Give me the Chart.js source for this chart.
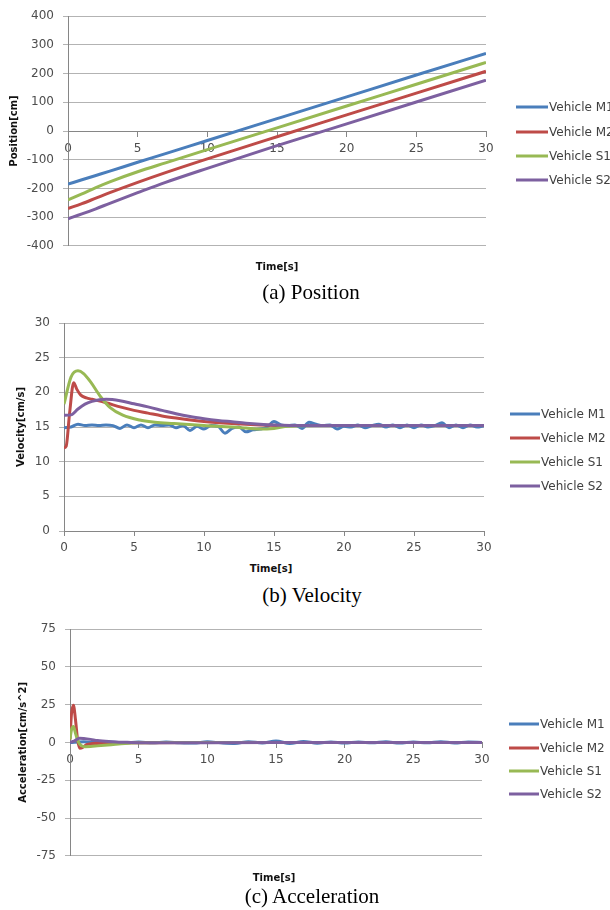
<!DOCTYPE html>
<html><head><meta charset="utf-8">
<script src="https://cdn.jsdelivr.net/npm/chart.js@4.4.1/dist/chart.umd.min.js"></script>
<style>
html,body{margin:0;padding:0;background:#fff;width:610px;height:910px;overflow:hidden;position:relative;}
canvas{position:absolute;left:0;}
.xt{position:absolute;white-space:nowrap;font:bold 10px "DejaVu Sans";color:#111;transform:translate(-50%,-50%);}
.cap{position:absolute;white-space:nowrap;font:21px "Liberation Serif";color:#000;transform:translate(-50%,-50%);}
.leg{position:absolute;white-space:nowrap;font:12px "DejaVu Sans";color:#404040;transform:translateY(-50%);}
.sw{position:absolute;height:3px;transform:translateY(-50%);}
</style></head>
<body>
<canvas id="c1" width="610" height="262" style="top:0px"></canvas>
<canvas id="c2" width="610" height="262" style="top:300px"></canvas>
<canvas id="c3" width="610" height="262" style="top:610px"></canvas>
<div class="xt" style="left:277px;top:266px">Time[s]</div>
<div class="cap" style="left:311px;top:292px">(a) Position</div>
<div class="xt" style="left:271px;top:568px">Time[s]</div>
<div class="cap" style="left:312px;top:595px">(b) Velocity</div>
<div class="xt" style="left:274px;top:877px">Time[s]</div>
<div class="cap" style="left:312px;top:896px">(c) Acceleration</div>
<script>
// ---- data ----
const seriesNames = ['Vehicle M1','Vehicle M2','Vehicle S1','Vehicle S2'];
const seriesColors = ['#4A7EBB','#BE4B48','#98B954','#7D60A0'];
const xTicks = [0,5,10,15,20,25,30];

// Position [cm]
const posTime = [0,1,2,3,5,7,10,15,20,25,30];
const posM1 = [-185,-170,-155,-140,-109,-79,-33,43,119,195,270];
const posM2 = [-270,-253,-234,-215,-179,-145,-97,-20,56,132,208];
const posS1 = [-240,-219,-197,-177,-142,-111,-65,11,87,163,239];
const posS2 = [-306,-289,-271,-252,-215,-179,-130,-51,25,101,177];

// Velocity [cm/s]
const velTimeM1 = [0,0.5,1,1.5,2,2.5,3,3.5,4,4.5,5,5.5,6,6.5,7,7.5,8,8.5,9,9.5,10,10.5,11,11.5,12,12.5,13,13.5,14,14.5,15,15.5,16,16.5,17,17.5,18,18.5,19,19.5,20,20.5,21,21.5,22,22.5,23,23.5,24,24.5,25,25.5,26,26.5,27,27.5,28,28.5,29,29.5,30];
const velM1 = [14.9,15.0,15.4,15.2,15.3,15.2,15.3,15.2,14.8,15.3,14.9,15.3,14.9,15.3,15.2,15.3,14.9,15.2,14.5,15.1,14.7,15.2,15.1,14.1,14.8,15.0,14.3,14.6,14.7,15.0,15.8,15.3,15.2,15.3,14.8,15.7,15.4,15.2,15.3,14.7,15.1,15.0,15.3,14.9,15.2,15.4,15.0,15.3,14.9,15.3,14.9,15.3,15.0,15.2,15.6,14.9,15.3,14.9,15.3,15.0,15.2];
const velTimeM2 = [0,0.15,0.4,0.69,0.9,1.2,1.6,2,3,4,5,6,7,8,10,12,14,16,20,25,30];
const velM2 = [12.0,12.2,17.0,21.4,20.5,19.6,19.2,19.0,18.5,17.9,17.4,17.0,16.6,16.3,15.8,15.5,15.3,15.2,15.2,15.2,15.2];
const velTimeS1 = [0,0.5,1.0,1.4,1.9,2.6,3.3,4.2,5.4,6.5,7.8,10,12,13,14,15,16,18,20,25,30];
const velS1 = [18.3,22.2,23.1,22.7,21.5,19.4,17.8,16.7,16.0,15.7,15.5,15.2,15.0,14.85,14.7,14.8,15.1,15.2,15.2,15.2,15.2];
const velTimeS2 = [0,0.5,1,1.5,2,3,4,5,6,7,8,9,10,11,12,13,14,15,17,20,25,30];
const velS2 = [16.7,16.75,17.6,18.3,18.7,19.0,18.8,18.35,17.9,17.4,16.9,16.5,16.2,15.95,15.75,15.55,15.4,15.3,15.2,15.2,15.2,15.2];

// Acceleration [cm/s^2]
const accTimeM1 = [0,1,2,3,4,5,6,7,8,9,10,11,12,13,14,15,16,17,18,19,20,21,22,23,24,25,26,27,28,29,30];
const accM1 = [0,0.4,-0.2,0.2,-0.3,0.2,-0.2,0.2,-0.2,-0.4,0.4,-0.3,-0.7,0.5,-0.4,0.9,-0.7,0.6,-0.5,0.3,-0.4,0.3,-0.3,0.4,-0.4,0.3,-0.3,0.5,-0.4,0.3,0];
const accTimeM2 = [0,0.1,0.25,0.4,0.55,0.7,0.9,1.2,1.6,2.5,4,6,10,15,30];
const accM2 = [2,18,24.5,15,2,-3.8,-3.5,-1.5,-0.8,-0.5,-0.3,-0.2,-0.1,0,0];
const accTimeS1 = [0,0.1,0.25,0.4,0.6,0.8,1.1,1.5,2,3,4,5,7,10,30];
const accS1 = [2,8,10.5,6,0.5,-2,-2.8,-2.7,-2.3,-1.5,-0.7,-0.3,-0.1,0,0];
const accTimeS2 = [0,0.3,0.7,1.0,1.5,2,3,4,5,7,10,15,30];
const accS2 = [0,0.8,2.8,2.6,2.0,1.2,0.5,0.1,-0.2,-0.3,-0.2,-0.1,0];

// ---- drawing ----
const tickFont = {family:'DejaVu Sans', size:12};
function ds(times, vals, i){
  return {label: seriesNames[i], data: times.map((t,k)=>({x:t,y:vals[k]})),
    borderColor: seriesColors[i], backgroundColor: seriesColors[i], borderWidth: 3,
    pointRadius: 0, fill: false, cubicInterpolationMode: 'monotone', order: 4 - i};
}
function makeChart(id, datasets, c){
  const xs = {type:'linear', min:0, max:30, position:c.xPos,
    afterBuildTicks: s => { s.ticks = xTicks.map(v=>({value:v})); },
    ticks:{font:tickFont, color:'#4d4d4d', padding:c.xPad, maxRotation:0, autoSkip:false},
    grid:{drawOnChartArea:false, drawTicks:true, tickLength:5, color:'#868686'},
    border:{color:'#868686', width:1}};
  if (c.xH) xs.afterFit = s => { s.height = c.xH; };
  new Chart(document.getElementById(id), {
    type:'line',
    data:{datasets},
    options:{
      responsive:false, animation:false, devicePixelRatio:1,
      layout:{padding:c.padding},
      plugins:{legend:{display:false}, tooltip:{enabled:false}},
      scales:{
        x: xs,
        y: {type:'linear', min:c.yMin, max:c.yMax,
          afterBuildTicks: s => { s.ticks = c.yTicks.map(v=>({value:v})); },
          ticks:{font:tickFont, color:'#4d4d4d', padding:9},
          grid:{color:'#B3B3B3', tickLength:5, drawTicks:true},
          border:{color:'#868686'},
          title:{display:true, text:c.yTitle, font:{family:'DejaVu Sans', size:10, weight:'bold'}, color:'#111', padding:{top:c.yTitlePad, bottom:0}},
          afterFit: s => { s.width = c.yW; }}
      }
    }
  });
}
function legend(lineX, lineW, textX, rows){
  rows.forEach((y,i)=>{
    const sw = document.createElement('div'); sw.className='sw';
    sw.style.cssText = `left:${lineX}px;top:${y}px;width:${lineW}px;background:${seriesColors[i]}`;
    document.body.appendChild(sw);
    const t = document.createElement('div'); t.className='leg';
    t.style.cssText = `left:${textX}px;top:${y}px`;
    t.textContent = seriesNames[i];
    document.body.appendChild(t);
  });
}

makeChart('c1', [ds(posTime,posM1,0),ds(posTime,posM2,1),ds(posTime,posS1,2),ds(posTime,posS2,3)],
  {xPos:{y:0}, xPad:6, yMin:-400, yMax:400, yTicks:[-400,-300,-200,-100,0,100,200,300,400],
   yTitle:'Position[cm]', yTitlePad:8, yW:68, padding:{top:12, bottom:8, left:0, right:124}});
makeChart('c2', [ds(velTimeM1,velM1,0),ds(velTimeM2,velM2,1),ds(velTimeS1,velS1,2),ds(velTimeS2,velS2,3)],
  {xPos:'bottom', xPad:5, xH:31, yMin:0, yMax:30, yTicks:[0,5,10,15,20,25,30],
   yTitle:'Velocity[cm/s]', yTitlePad:15, yW:64, padding:{top:23, bottom:0, left:0, right:126}});
makeChart('c3', [ds(accTimeM1,accM1,0),ds(accTimeM2,accM2,1),ds(accTimeS1,accS1,2),ds(accTimeS2,accS2,3)],
  {xPos:{y:0}, xPad:5, yMin:-75, yMax:75, yTicks:[-75,-50,-25,0,25,50,75],
   yTitle:'Acceleration[cm/s^2]', yTitlePad:17, yW:70, padding:{top:19, bottom:8, left:0, right:128}});

legend(516, 32, 549, [107,132,156,180]);
legend(510, 30, 541, [414,438,462,486]);
legend(509, 30, 540, [724,748,771,794]);
</script>
</body></html>
